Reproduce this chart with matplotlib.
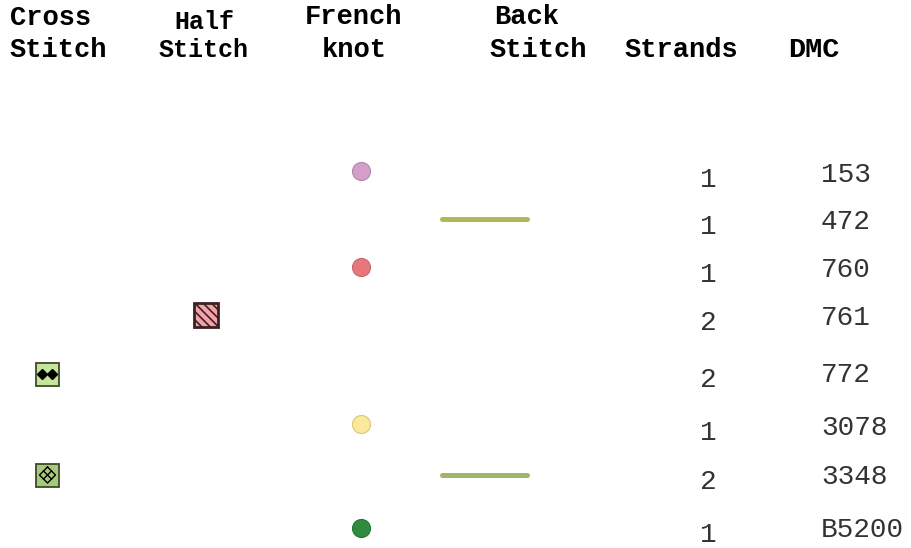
import matplotlib
matplotlib.use("Agg")
import matplotlib.pyplot as plt
from matplotlib.patches import Rectangle

# ---- data ----
dmc = ['153', '472', '760', '761', '772', '3078', '3348', 'B5200']
strands = [1, 1, 1, 2, 2, 1, 2, 1]
cross_stitch = [None, None, None, None, '#C6E59A', None, '#A9C97A', None]
cross_symbol = [None, None, None, None, 'dots', None, 'diamond', None]
half_stitch = [None, None, None, '#F4A3AA', None, None, None, None]
french_knot = ['#D49FC9', None, '#E8777C', None, None, '#FBE898', None, '#2F8C3D']
french_edge = ['#B486AB', None, '#C9686C', None, None, '#D8C77C', None, '#27753A']
back_stitch = [None, '#B4B65A', None, None, None, None, '#9EB56A', None]
headers = [("Cross", "Stitch"), ("Half", "Stitch"), ("French", "knot"),
           ("Back", "Stitch"), ("", "Strands"), ("", "DMC")]

# ---- layout (pixel space) ----
W, H = 912, 548
row_y = [175, 222, 270, 318, 375, 428, 477, 530]
sym_y = [171, 219, 267, 315, 374, 424, 475, 528]
x_cross, x_half, x_french = 47.5, 206.5, 361
x_back0, x_back1 = 442, 527
x_strands, x_dmc = 708, 821

plt.rcParams['hatch.color'] = 'black'
plt.rcParams['hatch.linewidth'] = 1.2

fig = plt.figure(figsize=(W / 100, H / 100), dpi=100)
ax = fig.add_axes([0, 0, 1, 1])
ax.set_xlim(0, W)
ax.set_ylim(H, 0)
ax.axis('off')

mono = ['Liberation Mono', 'DejaVu Sans Mono']
hfont = dict(family=mono, weight='bold', color='black')

# headers
hx = [(10, 10, 'left', 'left', 19.5), (204, 204, 'center', 'center', 18),
      (354, 354, 'center', 'center', 19.5), (494, 490, 'left', 'left', 19.5),
      (681, 681, 'center', 'center', 19.5), (814, 814, 'center', 'center', 20.5)]
top_y = [18, 22, 17, 17, 17, 17]
for (l1, l2), (xa, xb, ha1, ha2, fs), ty in zip(headers, hx, top_y):
    if l1:
        ax.text(xa, ty, l1, ha=ha1, va='center', fontsize=fs, **hfont)
    ax.text(xb, 50, l2, ha=ha2, va='center', fontsize=fs, **hfont)

sq = 23
for i, y in enumerate(row_y):
    ys = sym_y[i]
    # DMC and strands
    ax.text(x_dmc, y, dmc[i], ha='left', va='center', fontsize=20,
            family=mono, color='#333333')
    ax.text(x_strands, y + 5, str(strands[i]), ha='center', va='center',
            fontsize=20, family=mono, color='#333333')
    # french knot
    if french_knot[i]:
        ax.plot([x_french], [ys], 'o', ms=13, mfc=french_knot[i],
                mec=french_edge[i], mew=0.8)
    # back stitch
    if back_stitch[i]:
        ax.plot([x_back0, x_back1], [ys, ys], color=back_stitch[i], lw=3.6,
                solid_capstyle='round')
    # half stitch
    if half_stitch[i]:
        ax.add_patch(Rectangle((x_half - 12, ys - 12), 24, 24,
                               facecolor=half_stitch[i], edgecolor='#3A2222',
                               lw=2, hatch='\\\\\\\\'))
    # cross stitch
    if cross_stitch[i]:
        ax.add_patch(Rectangle((x_cross - sq / 2, ys - sq / 2), sq, sq,
                               facecolor=cross_stitch[i], edgecolor='#3A4A2A',
                               lw=1.3))
        cx, cy = x_cross, ys
        if cross_symbol[i] == 'dots':
            ax.plot([cx - 5, cx + 5], [cy, cy], 'D', ms=5.5, color='black',
                    ls='none')
        else:
            r = 8
            ax.plot([cx, cx + r, cx, cx - r, cx], [cy - r, cy, cy + r, cy, cy - r],
                    color='black', lw=1)
            ax.plot([cx - r / 2, cx + r / 2], [cy - r / 2, cy + r / 2],
                    color='black', lw=1)
            ax.plot([cx + r / 2, cx - r / 2], [cy - r / 2, cy + r / 2],
                    color='black', lw=1)

fig.savefig('out.png', dpi=100, facecolor='white')
